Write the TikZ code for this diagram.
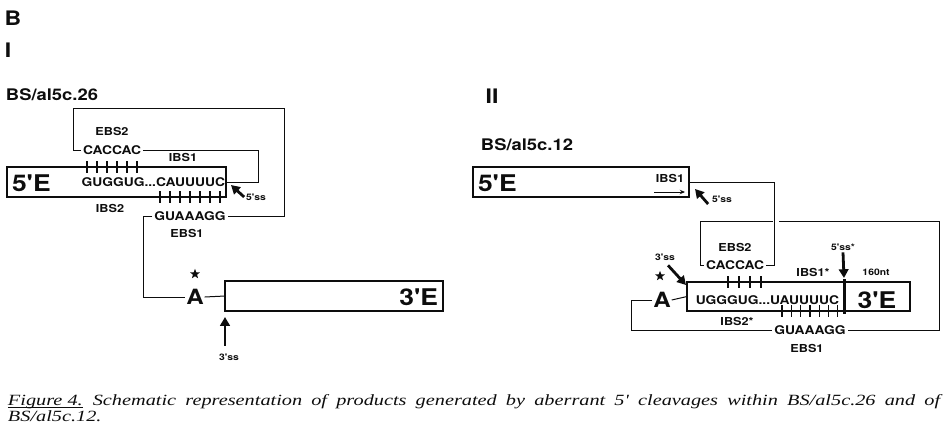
\documentclass[tikz,border=0pt]{standalone}
\usepackage{fontspec}
\usepackage{graphicx}
\usetikzlibrary{arrows.meta,shapes.geometric}
\newfontfamily\figfont[FakeStretch=1.15]{TeX Gyre Heros}
\newfontfamily\capfont{Liberation Serif}
\definecolor{SpliceInk}{gray}{0.05}
\newcommand\figref[1]{{\setbox0\hbox{#1}\rlap{\rule[-1.4pt]{\wd0}{0.45pt}}\box0}}
\newcommand\wideline[1]{\scalebox{1.3}[1]{\hbox to 358.5pt{#1}}}
\tikzset{
    splice/diagram/.style={
        draw=SpliceInk,
        text=SpliceInk,
        line width=0.5pt,
        line cap=butt,
        every node/.style={inner sep=1pt, outer sep=0pt}
    },
    splice/head/.style={font=\figfont\bfseries\fontsize{10}{10}\selectfont},
    splice/title/.style={font=\figfont\bfseries\fontsize{8}{8}\selectfont},
    splice/box/.style={draw=SpliceInk, line width=0.75pt, inner sep=0pt},
    splice/exon/.style={font=\figfont\bfseries\fontsize{11.5}{11.5}\selectfont, inner sep=0pt},
    splice/base/.style={font=\figfont\bfseries\fontsize{10.5}{10.5}\selectfont, inner sep=0.5pt},
    splice/seq/.style={font=\figfont\bfseries\fontsize{6}{6}\selectfont},
    splice/tag/.style={font=\figfont\bfseries\fontsize{5.5}{5.5}\selectfont},
    splice/site/.style={font=\figfont\bfseries\fontsize{4.5}{4.5}\selectfont},
    splice/star/.style={star, star points=5, star point ratio=2.4,
        fill=SpliceInk, draw=none, minimum size=5.2pt, inner sep=0pt},
    splice/wire/.style={draw=SpliceInk, line width=0.5pt},
    splice/tick/.style={draw=SpliceInk, line width=0.6pt},
    splice/cut/.style={draw=SpliceInk, line width=1.5pt},
    splice/pointer/.style={
        draw=SpliceInk, line width=1.4pt,
        -{Triangle[length=4.4pt, width=4.8pt]}
    },
    splice/strand/.style={
        draw=SpliceInk, line width=0.5pt,
        -{Stealth[length=2.6pt, width=2.2pt]}
    },
    splice/caption/.style={
        font=\capfont\itshape\fontsize{7.8}{7.8}\selectfont, inner sep=0pt
    }
}
\begin{document}
\begin{tikzpicture}[splice/diagram, x=0.5pt, y=-0.5pt]
    \useasboundingbox (0,0) rectangle (947,440);
    \node[splice/head] (B) at (13,18) {B};
    \node[splice/head] (I) at (8,50) {I};
    \node[splice/title] (nameI) at (52,95) {BS/al5c.26};
    % first product
    \node[splice/box, minimum width=109.5pt, minimum height=15pt] (exonIfive) at (116.5,182) {};
    \node[splice/exon, anchor=west] (labIfive) at (12,183) {5'E};
    \node[splice/seq, anchor=east] (seqI) at (227,182) {GUGGUG...CAUUUUC};
    \foreach \x in {87,97,...,137}
        \draw[splice/tick] (\x,161) -- (\x,173);
    \foreach \x in {160,170,...,220}
        \draw[splice/tick] (\x,191) -- (\x,203);
    \node[splice/tag] (ebsIItwo) at (112,131) {EBS2};
    \node[splice/seq] (cacI) at (112,150) {CACCAC};
    \node[splice/tag] (ibsIone) at (183,157) {IBS1};
    \node[splice/tag] (ibsItwo) at (110,208) {IBS2};
    \node[splice/seq] (guaI) at (190,216) {GUAAAGG};
    \node[splice/tag] (ebsIone) at (187,233) {EBS1};
    \node[splice/site] (ssIfive) at (256,197) {5'ss};
    \draw[splice/wire] (cacI.west) -- ++(-8,0) |- (284,108) |- (guaI.east);
    \draw[splice/wire] (cacI.east) -| ([xshift=15.5pt]seqI.east) -- (seqI.east);
    \draw[splice/pointer] (ssIfive.west) -- ([shift={(2pt,-1.5pt)}]seqI.east);
    \node[splice/base] (AI) at (195,297) {A};
    \node[splice/star] (starI) at (195,274) {};
    \node[splice/box, minimum width=109pt, minimum height=15pt] (exonIthree) at (334,296) {};
    \node[splice/exon, anchor=east] (labIthree) at (438,297) {3'E};
    \draw[splice/wire] (guaI.west) -- ++(-9,0) |- (AI.west);
    \draw[splice/wire] (AI.east) -- (exonIthree.west);
    \node[splice/site] (ssIthree) at (229,357) {3'ss};
    \draw[splice/pointer] (ssIthree.north -| exonIthree.west) ++(0,-6)
        -- ([yshift=-3pt]exonIthree.south west);

    \node[splice/head] (II) at (492,96) {II};
    \node[splice/title] (nameII) at (527,145) {BS/al5c.12};
    % second product
    \node[splice/box, minimum width=108pt, minimum height=15pt] (exonIIfive) at (581,182) {};
    \node[splice/exon, anchor=west] (labIIfive) at (478,183) {5'E};
    \node[splice/tag] (ibsIIone) at (670,178) {IBS1};
    \coordinate (strandII) at (654,192);
    \draw[splice/strand] (strandII) -- ([xshift=-2pt]strandII -| exonIIfive.east);
    \node[splice/site] (ssIIfive) at (722,199) {5'ss};
    \draw[splice/pointer] (ssIIfive.west) ++(-2,5) -- ([shift={(3pt,-3.5pt)}]exonIIfive.east);
    \node[splice/tag] (ebsIItwo) at (735,247) {EBS2};
    \node[splice/seq] (cacII) at (735,265) {CACCAC};
    \coordinate (loopII) at (773,221);
    \coordinate (crossII) at (779,221);
    \node[splice/box, minimum width=78.5pt, minimum height=14.5pt] (midII) at (765.5,296.5) {};
    \node[splice/box, minimum width=33pt, minimum height=14.5pt] (exonIIthree) at (877,296.5) {};
    \draw[splice/cut] ([yshift=1.5pt]exonIIthree.north west) -- ([yshift=-1.5pt]exonIIthree.south west);
    \node[splice/exon] (labIIthree) at (877,300) {3'E};
    \node[splice/seq, anchor=east] (seqII) at (841,300) {UGGGUG...UAUUUUC};
    \foreach \x in {728,739,750,761}
        \draw[splice/tick] (\x,276) -- (\x,288);
    \foreach \k in {0,...,6}
        \draw[splice/tick] ({782+9.3*\k},305) -- ({782+9.3*\k},317);
    \node[splice/tag] (ibsIIonestar) at (813,272) {IBS1*};
    \node[splice/site] (ssIIfivestar) at (843,247) {5'ss*};
    \node[splice/site] (ntII) at (876,272) {160nt};
    \draw[splice/pointer] (ssIIfivestar.south) -- ([yshift=2pt]exonIIthree.north west);
    \node[splice/tag] (ibsIItwostar) at (737,321) {IBS2*};
    \node[splice/seq] (guaII) at (810,330) {GUAAAGG};
    \node[splice/tag] (ebsIIone) at (807,348) {EBS1};
    \node[splice/base] (AII) at (662,300) {A};
    \node[splice/star] (starII) at (660,276) {};
    \node[splice/site] (ssIIthree) at (665,257) {3'ss};
    \draw[splice/pointer] (ssIIthree.south) ++(3,3) -- ([shift={(-0.5pt,-1.5pt)}]midII.north west);
    \draw[splice/wire] (exonIIfive.east) -| ([xshift=4pt]cacII.east) -- (cacII.east);
    \draw[splice/wire] (cacII.west) -- ++(-4,0) |- (loopII);
    \draw[splice/wire] (crossII) -| ([xshift=46pt]guaII.east) -- (guaII.east);
    \draw[splice/wire] (AII.west) -- ++(-21,0) |- (guaII.west);
    \draw[splice/wire] (AII.east) -- (midII.west);

    \node[splice/caption, anchor=base west] (capone) at (8,405)
        {\wideline{\figref{Figure 4.}\enspace Schematic representation of products generated by aberrant 5' cleavages within BS/al5c.26 and of}};
    \node[splice/caption, anchor=base west] (captwo) at (8,421)
        {\scalebox{1.3}[1]{BS/al5c}};
    \node[splice/caption, anchor=base west] (captwoend) at (captwo.base east)
        {\scalebox{1.3}[1]{.12.}};
\end{tikzpicture}
\end{document}
